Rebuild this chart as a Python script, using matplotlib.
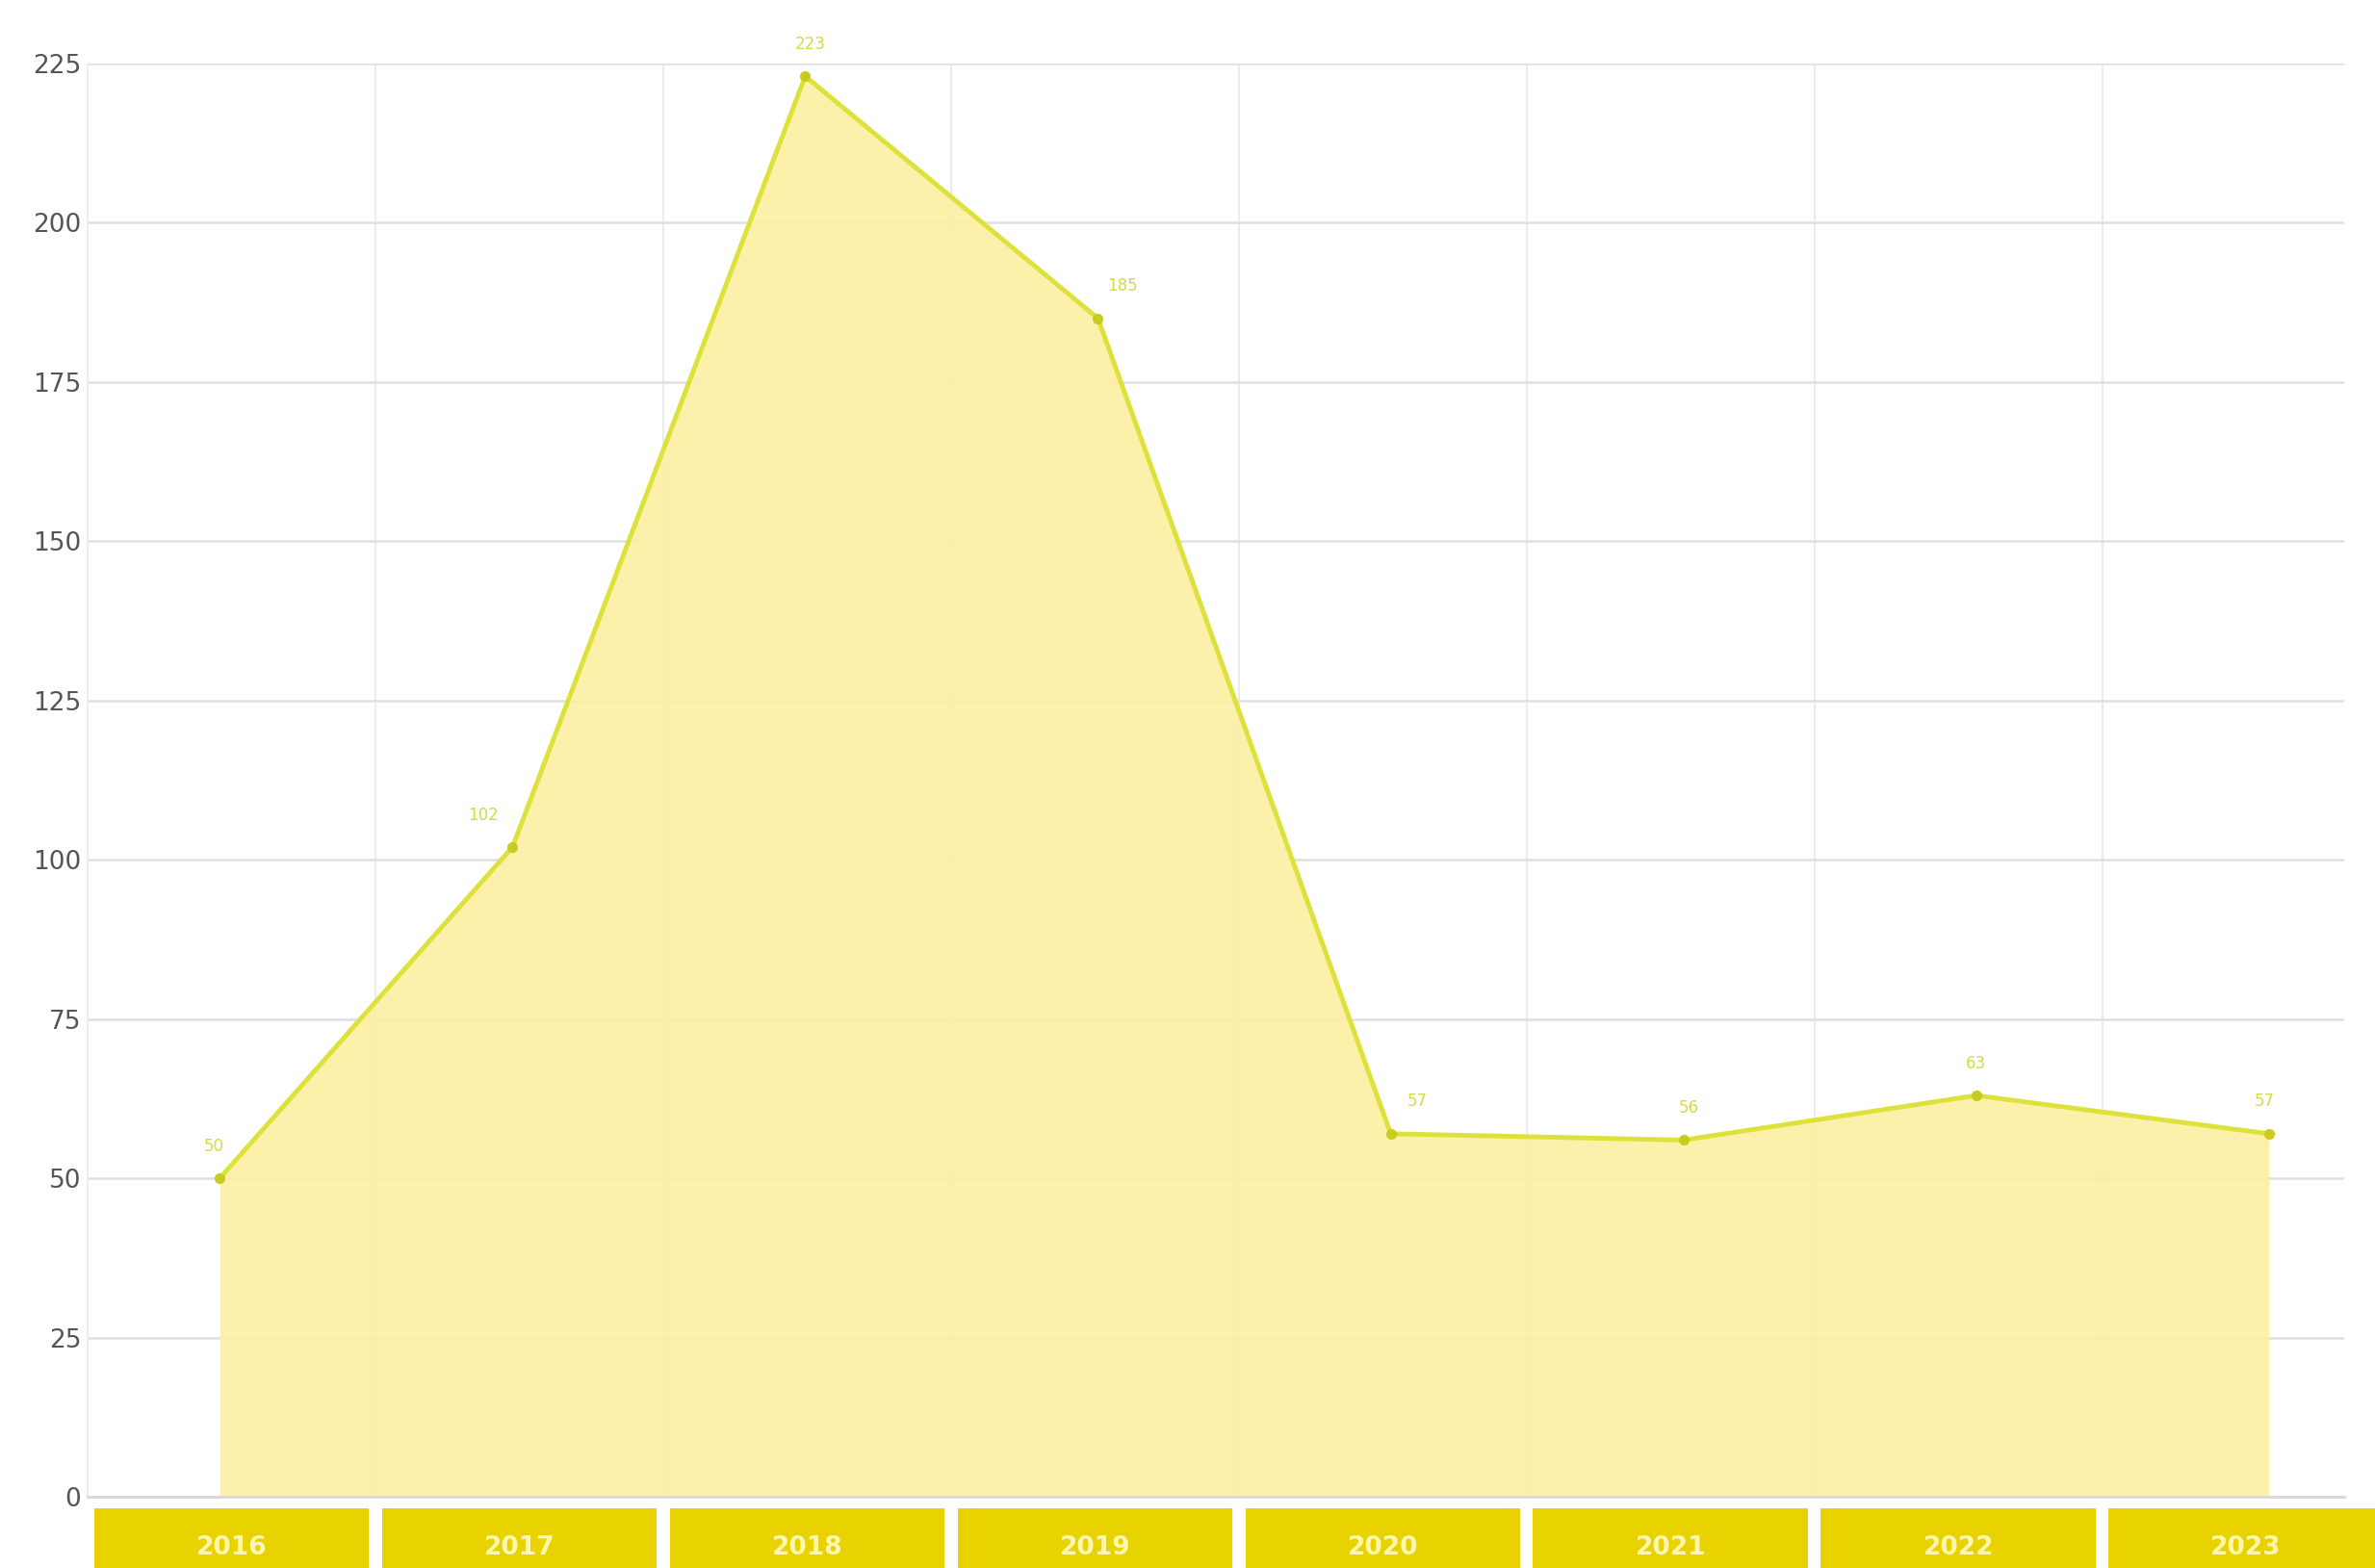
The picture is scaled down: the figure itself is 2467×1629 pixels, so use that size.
import matplotlib
matplotlib.use("Agg")
import matplotlib.pyplot as plt
from matplotlib.patches import Rectangle
from matplotlib.transforms import blended_transform_factory

years = ["2016", "2017", "2018", "2019", "2020", "2021", "2022", "2023"]
counts = [50, 102, 223, 185, 57, 56, 63, 57]
y_ticks = [0, 25, 50, 75, 100, 125, 150, 175, 200, 225]

LINE = "#DDE23A"
MARK = "#C9CC1E"
FILL = "#FDEFA2"
BOX = "#E8D200"

fig = plt.figure(figsize=(24.67, 16.29), dpi=100)
ax = fig.add_axes([0.037, 0.0454, 0.950, 0.9141])

x = list(range(len(years)))

# category bands are a little narrower than the spacing of the points
band = 0.983
x_left = -0.4505
band_edges = [x_left + band * k for k in range(len(years) + 1)]

ax.set_xlim(x_left, 7.257)
ax.set_ylim(0, 225)

ax.fill_between(x, counts, 0, color=FILL, alpha=0.9, lw=0, zorder=1)
ax.plot(x, counts, color=LINE, lw=3.5, zorder=3)
ax.plot(x, counts, "o", color=MARK, ms=7, zorder=4)

# value labels, nudged sideways where the line would run through them
label_dx = [-4, -22, 4, 18, 20, 4, 0, -3]
for xi, v, dx in zip(x, counts, label_dx):
    ax.annotate(str(v), (xi, v), xytext=(dx, 24), textcoords="offset points",
                ha="center", va="center", fontsize=12, color="#D2DA45", zorder=5)

ax.set_yticks(y_ticks)
ax.set_yticklabels([str(t) for t in y_ticks], fontsize=19, color="#555555")
ax.tick_params(axis="y", length=0, pad=5)
ax.set_xticks(band_edges[1:-1])
ax.set_xticklabels([])
ax.tick_params(axis="x", length=0)

ax.grid(True, axis="y", color="#E0E0E0", lw=1.8, zorder=0)
ax.grid(True, axis="x", color="#EBEBEB", lw=1.5, zorder=0)
ax.set_axisbelow(True)
for side in ["top", "right"]:
    ax.spines[side].set_visible(False)
ax.spines["left"].set_color("#EDEDED")
ax.spines["left"].set_linewidth(1.5)
ax.spines["bottom"].set_color("#D8D8D8")
ax.spines["bottom"].set_linewidth(2)

# year boxes under the plot
trans = blended_transform_factory(ax.transData, fig.transFigure)
gap = 0.022
for i, yr in enumerate(years):
    x0 = band_edges[i] + gap
    x1 = band_edges[i + 1] - gap
    fig.patches.append(Rectangle((x0, 0), x1 - x0, 0.038, transform=trans,
                                 facecolor=BOX, edgecolor="none"))
    fig.text((x0 + x1) / 2, 0.013, yr, transform=trans, ha="center", va="center",
             fontsize=19, fontweight="bold", color="#FFF6B0")

fig.savefig("out.png", dpi=100)
